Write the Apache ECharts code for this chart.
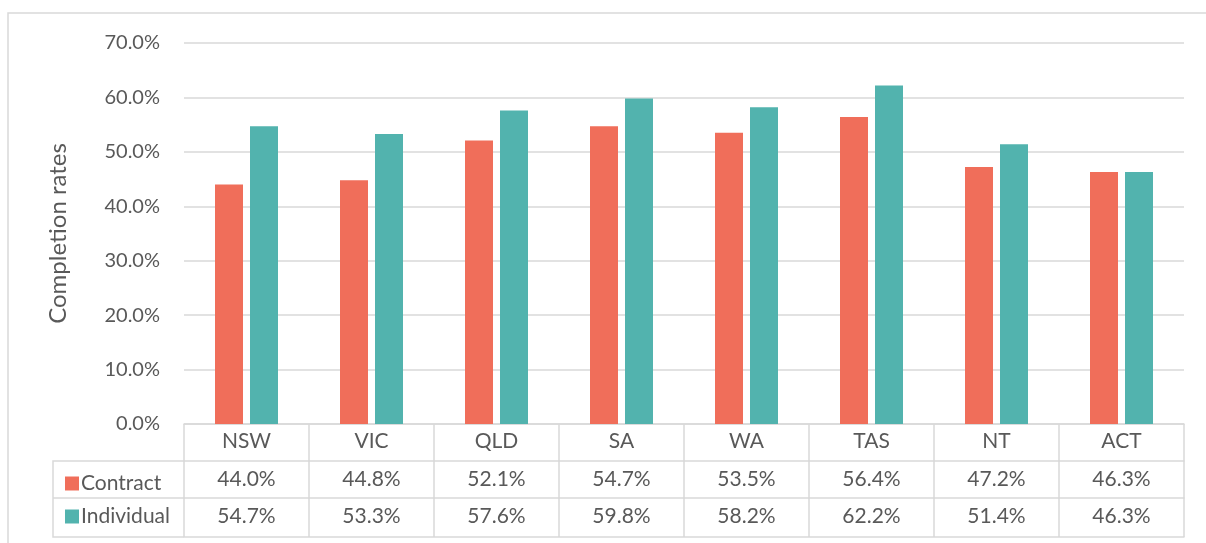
<!DOCTYPE html>
<html>
<head>
<meta charset="utf-8">
<script src="https://cdn.jsdelivr.net/npm/echarts@6/dist/echarts.min.js"></script>
<style>
  html, body { margin: 0; padding: 0; background: #fff; }
  #main { width: 1206px; height: 543px; }
</style>
</head>
<body>
<div id="main"></div>
<script>
var states = ['NSW', 'VIC', 'QLD', 'SA', 'WA', 'TAS', 'NT', 'ACT']
var contract = [44.0, 44.8, 52.1, 54.7, 53.5, 56.4, 47.2, 46.3]
var individual = [54.7, 53.3, 57.6, 59.8, 58.2, 62.2, 51.4, 46.3]
var yTicks = [0, 10, 20, 30, 40, 50, 60, 70]

var FONT = 'Lato'
var FS = 20
var TFS = 21
var TXT = '#595959'
var LINE = '#d9d9d9'
var C1 = '#f06e5a'
var C2 = '#52b3ae'

var gridLeft = 184, gridRight = 1184, gridTop = 43, gridBottom = 424
var rowH = 37

var myChart = echarts.init(document.getElementById('main'))

function pct(v) { return v.toFixed(1) + '%' }

// axes used as table rows under the plot
function rowAxis(offset, vals) {
  return {
    type: 'category',
    data: states,
    position: 'bottom',
    offset: offset,
    axisLine: { show: true, lineStyle: { color: LINE, width: 1.5 } },
    axisTick: { show: false },
    axisLabel: {
      show: !!vals,
      margin: 8,
      fontFamily: FONT, fontSize: TFS, color: TXT,
      formatter: function (v, i) { return vals ? pct(vals[i]) : '' }
    },
    splitLine: { show: false }
  }
}

var option = {
  animation: false,
  textStyle: { fontFamily: FONT },
  grid: {
    left: gridLeft, right: 1206 - gridRight,
    top: gridTop, bottom: 543 - gridBottom,
    containLabel: false,
    outerBoundsMode: 'none'
  },
  legend: {
    data: ['Contract', 'Individual'],
    orient: 'vertical',
    left: 60, top: 468,
    itemWidth: 14, itemHeight: 14, itemGap: 12,
    icon: 'rect',
    textStyle: { fontFamily: FONT, fontSize: TFS, color: TXT, padding: [0, 0, 0, -3] }
  },
  xAxis: [
    {
      type: 'category',
      data: states,
      position: 'bottom',
      axisLine: { show: true, lineStyle: { color: LINE, width: 1.5 } },
      axisTick: { show: true, length: rowH * 3 + 2, lineStyle: { color: LINE, width: 1.5 } },
      axisLabel: { margin: 7, fontFamily: FONT, fontSize: TFS, color: TXT }
    },
    rowAxis(rowH, contract),
    rowAxis(rowH * 2, individual),
    rowAxis(rowH * 3 + 2, null)
  ],
  yAxis: {
    type: 'value',
    min: yTicks[0], max: yTicks[yTicks.length - 1], interval: 10,
    name: 'Completion rates',
    nameLocation: 'middle',
    nameRotate: 90,
    nameGap: 114,
    nameTextStyle: { fontFamily: FONT, fontSize: 24, color: TXT },
    axisLine: { show: false },
    axisTick: { show: false },
    axisLabel: { margin: 24, fontFamily: FONT, fontSize: FS, color: TXT, formatter: pct },
    splitLine: { lineStyle: { color: LINE, width: 1.5 } }
  },
  series: [
    {
      name: 'Contract', type: 'bar', xAxisIndex: 0,
      barWidth: 28, barGap: '25%',
      itemStyle: { color: C1 },
      data: contract
    },
    {
      name: 'Individual', type: 'bar', xAxisIndex: 0,
      barWidth: 28, barGap: '25%',
      itemStyle: { color: C2 },
      data: individual
    }
  ],
  graphic: [
    // outer frame
    { type: 'polyline', silent: true,
      shape: { points: [[8, 543], [8, 13], [1206, 13]] },
      style: { stroke: LINE, lineWidth: 1.5, fill: null } },
    // legend column of the data table
    { type: 'polyline', silent: true,
      shape: { points: [[gridLeft, gridBottom + rowH], [53, gridBottom + rowH], [53, gridBottom + rowH * 3 + 2], [gridLeft, gridBottom + rowH * 3 + 2]] },
      style: { stroke: LINE, lineWidth: 1.5, fill: null } },
    { type: 'line', silent: true,
      shape: { x1: 53, y1: gridBottom + rowH * 2, x2: gridLeft, y2: gridBottom + rowH * 2 },
      style: { stroke: LINE, lineWidth: 1.5 } }
  ]
}

myChart.setOption(option)
</script>
</body>
</html>
